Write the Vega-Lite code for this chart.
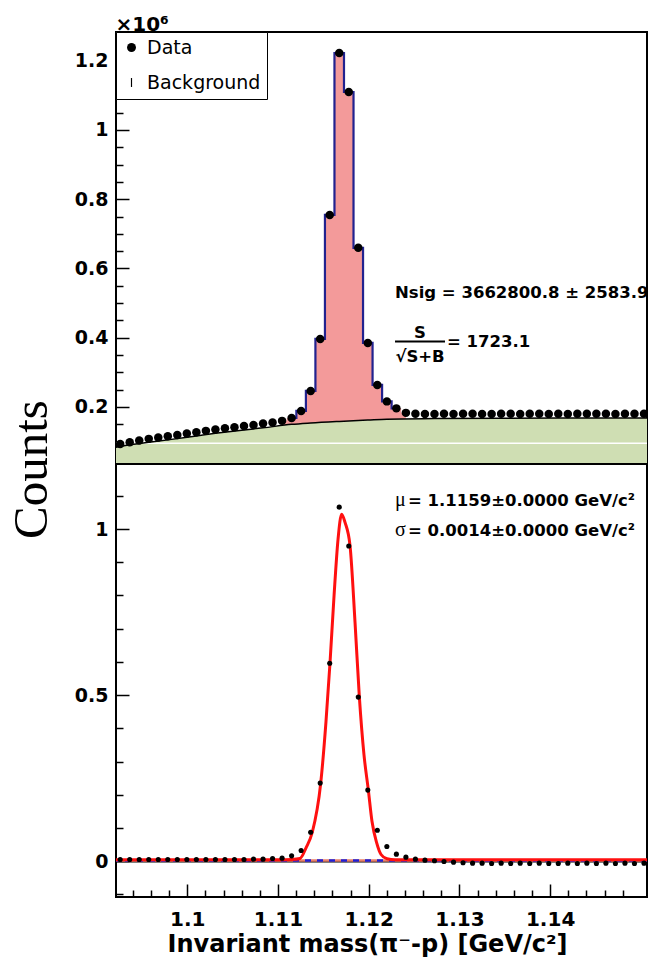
{
  "$schema": "https://vega.github.io/schema/vega-lite/v6.json",
  "padding": {"left": 6, "top": 13, "right": 0, "bottom": 0},
  "background": "white",
  "bounds": "flush",
  "spacing": 0,
  "config": {
    "view": {"stroke": "black", "strokeWidth": 2},
    "concat": {"spacing": 0}
  },
  "datasets": {
    "bins": [
      {"m": 1.0926, "n": 0.0931, "r": 0.005},
      {"m": 1.09365, "n": 0.0981, "r": 0.005},
      {"m": 1.0947, "n": 0.1027, "r": 0.005},
      {"m": 1.09575, "n": 0.1076, "r": 0.005},
      {"m": 1.0968, "n": 0.1113, "r": 0.005},
      {"m": 1.09785, "n": 0.1154, "r": 0.005},
      {"m": 1.0989, "n": 0.1191, "r": 0.005},
      {"m": 1.09995, "n": 0.1229, "r": 0.005},
      {"m": 1.101, "n": 0.1269, "r": 0.005},
      {"m": 1.10205, "n": 0.1307, "r": 0.005},
      {"m": 1.1031, "n": 0.1344, "r": 0.005},
      {"m": 1.10415, "n": 0.1385, "r": 0.005},
      {"m": 1.1052, "n": 0.1414, "r": 0.005},
      {"m": 1.10625, "n": 0.1451, "r": 0.005},
      {"m": 1.1073, "n": 0.148, "r": 0.006},
      {"m": 1.10835, "n": 0.1518, "r": 0.006},
      {"m": 1.1094, "n": 0.1547, "r": 0.008},
      {"m": 1.11045, "n": 0.1596, "r": 0.009},
      {"m": 1.1115, "n": 0.1682, "r": 0.016},
      {"m": 1.11255, "n": 0.1884, "r": 0.032},
      {"m": 1.1136, "n": 0.2462, "r": 0.087},
      {"m": 1.11465, "n": 0.3964, "r": 0.235},
      {"m": 1.1157, "n": 0.7545, "r": 0.596},
      {"m": 1.11675, "n": 1.2224, "r": 1.066},
      {"m": 1.1178, "n": 1.1097, "r": 0.949},
      {"m": 1.11885, "n": 0.6596, "r": 0.494},
      {"m": 1.1199, "n": 0.3848, "r": 0.214},
      {"m": 1.12095, "n": 0.2635, "r": 0.093},
      {"m": 1.122, "n": 0.2159, "r": 0.044},
      {"m": 1.12305, "n": 0.1957, "r": 0.021},
      {"m": 1.1241, "n": 0.1827, "r": 0.012},
      {"m": 1.12515, "n": 0.18, "r": 0.006},
      {"m": 1.1262, "n": 0.1795, "r": 0.003},
      {"m": 1.12725, "n": 0.1798, "r": 0.001},
      {"m": 1.1283, "n": 0.1801, "r": -0.001},
      {"m": 1.12935, "n": 0.1797, "r": -0.003},
      {"m": 1.1304, "n": 0.1799, "r": -0.005},
      {"m": 1.13145, "n": 0.1802, "r": -0.006},
      {"m": 1.1325, "n": 0.1798, "r": -0.006},
      {"m": 1.13355, "n": 0.1796, "r": -0.007},
      {"m": 1.1346, "n": 0.18, "r": -0.006},
      {"m": 1.13565, "n": 0.1801, "r": -0.007},
      {"m": 1.1367, "n": 0.1797, "r": -0.006},
      {"m": 1.13775, "n": 0.1799, "r": -0.007},
      {"m": 1.1388, "n": 0.1802, "r": -0.006},
      {"m": 1.13985, "n": 0.1798, "r": -0.007},
      {"m": 1.1409, "n": 0.18, "r": -0.007},
      {"m": 1.14195, "n": 0.1797, "r": -0.006},
      {"m": 1.143, "n": 0.1801, "r": -0.007},
      {"m": 1.14405, "n": 0.1799, "r": -0.006},
      {"m": 1.1451, "n": 0.18, "r": -0.007},
      {"m": 1.14615, "n": 0.1802, "r": -0.006},
      {"m": 1.1472, "n": 0.1798, "r": -0.007},
      {"m": 1.14825, "n": 0.18, "r": -0.006},
      {"m": 1.1493, "n": 0.1801, "r": -0.007},
      {"m": 1.15035, "n": 0.1799, "r": -0.006}
    ],
    "bg": [
      {"m": 1.09214, "b": 0.083},
      {"m": 1.0926, "b": 0.0859},
      {"m": 1.09575, "b": 0.0975},
      {"m": 1.09785, "b": 0.1047},
      {"m": 1.101, "b": 0.116},
      {"m": 1.1031, "b": 0.1235},
      {"m": 1.10625, "b": 0.1335},
      {"m": 1.10835, "b": 0.1394},
      {"m": 1.1115, "b": 0.1495},
      {"m": 1.1136, "b": 0.1535},
      {"m": 1.11675, "b": 0.1581},
      {"m": 1.1199, "b": 0.162},
      {"m": 1.122, "b": 0.1645},
      {"m": 1.12725, "b": 0.1662},
      {"m": 1.1346, "b": 0.1672},
      {"m": 1.143, "b": 0.1678},
      {"m": 1.15068, "b": 0.1682}
    ],
    "fit": [
      {"m": 1.09214, "f": 0.004},
      {"m": 1.1, "f": 0.004},
      {"m": 1.11, "f": 0.004},
      {"m": 1.1115, "f": 0.005},
      {"m": 1.11243, "f": 0.008},
      {"m": 1.11309, "f": 0.04},
      {"m": 1.11378, "f": 0.087},
      {"m": 1.11471, "f": 0.235},
      {"m": 1.11529, "f": 0.42},
      {"m": 1.11573, "f": 0.596},
      {"m": 1.11618, "f": 0.8},
      {"m": 1.11662, "f": 0.97},
      {"m": 1.11702, "f": 1.045},
      {"m": 1.11739, "f": 1.02},
      {"m": 1.11794, "f": 0.95},
      {"m": 1.11849, "f": 0.72},
      {"m": 1.11897, "f": 0.494},
      {"m": 1.11948, "f": 0.32},
      {"m": 1.11996, "f": 0.214},
      {"m": 1.12036, "f": 0.12},
      {"m": 1.12088, "f": 0.055},
      {"m": 1.12136, "f": 0.02},
      {"m": 1.12202, "f": 0.007},
      {"m": 1.1229, "f": 0.004},
      {"m": 1.135, "f": 0.004},
      {"m": 1.15068, "f": 0.004}
    ]
  },
  "vconcat": [
    {
      "width": 531,
      "height": 432,
      "layer": [
        {
          "data": {"name": "bins"},
          "transform": [{"filter": "datum.m >= 1.1104 && datum.m <= 1.1242"}],
          "mark": {"type": "area", "interpolate": "step", "clip": true, "color": "#f39a9a"},
          "encoding": {
            "x": {"field": "m", "type": "quantitative", "scale": {"domain": [1.09214, 1.15068], "nice": false, "zero": false}},
            "y": {"field": "n", "type": "quantitative", "scale": {"domain": [0.035, 1.283], "nice": false, "zero": false}},
            "y2": {"datum": 0}
          }
        },
        {
          "data": {"name": "bg"},
          "mark": {"type": "area", "interpolate": "monotone", "clip": true, "color": "#cfdeb3"},
          "encoding": {
            "x": {"field": "m", "type": "quantitative", "scale": {"domain": [1.09214, 1.15068], "nice": false, "zero": false}},
            "y": {"field": "b", "type": "quantitative", "scale": {"domain": [0.035, 1.283], "nice": false, "zero": false}},
            "y2": {"datum": 0}
          }
        },
        {
          "data": {"values": [{}]},
          "mark": {"type": "rule", "color": "white", "strokeWidth": 1.5},
          "encoding": {
            "y": {"datum": 0.0952, "type": "quantitative", "scale": {"domain": [0.035, 1.283], "nice": false, "zero": false}}
          }
        },
        {
          "data": {"name": "bg"},
          "mark": {"type": "line", "interpolate": "monotone", "clip": true, "color": "black", "strokeWidth": 1.5},
          "encoding": {
            "x": {"field": "m", "type": "quantitative", "scale": {"domain": [1.09214, 1.15068], "nice": false, "zero": false}},
            "y": {"field": "b", "type": "quantitative", "scale": {"domain": [0.035, 1.283], "nice": false, "zero": false}}
          }
        },
        {
          "data": {"name": "bins"},
          "transform": [{"filter": "datum.m >= 1.1114 && datum.m <= 1.1231"}],
          "mark": {"type": "line", "interpolate": "step", "clip": true, "color": "#22228f", "strokeWidth": 2.2},
          "encoding": {
            "x": {"field": "m", "type": "quantitative", "scale": {"domain": [1.09214, 1.15068], "nice": false, "zero": false}},
            "y": {"field": "n", "type": "quantitative", "scale": {"domain": [0.035, 1.283], "nice": false, "zero": false}}
          }
        },
        {
          "data": {"name": "bins"},
          "mark": {"type": "point", "filled": true, "opacity": 1, "size": 72, "color": "black", "clip": true},
          "encoding": {
            "x": {
              "field": "m", "type": "quantitative",
              "scale": {"domain": [1.09214, 1.15068], "nice": false, "zero": false},
              "axis": {
                "values": [1.092,1.094,1.096,1.098,1.1,1.102,1.104,1.106,1.108,1.11,1.112,1.114,1.116,1.118,1.12,1.122,1.124,1.126,1.128,1.13,1.132,1.134,1.136,1.138,1.14,1.142,1.144,1.146,1.148],
                "tickCount": 500,
                "labels": false, "domain": false, "grid": false, "title": null,
                "tickColor": "black", "tickWidth": 1.5,
                "tickSize": {"condition": {"test": "abs(datum.value*100-round(datum.value*100))<0.01", "value": -13}, "value": -7}
              }
            },
            "y": {
              "field": "n", "type": "quantitative",
              "scale": {"domain": [0.035, 1.283], "nice": false, "zero": false},
              "axis": {
                "values": [0.05,0.1,0.15,0.2,0.25,0.3,0.35,0.4,0.45,0.5,0.55,0.6,0.65,0.7,0.75,0.8,0.85,0.9,0.95,1,1.05,1.1,1.15,1.2,1.25],
                "tickCount": 500,
                "labelExpr": "abs(datum.value*5-round(datum.value*5))<0.01 ? format(datum.value, '.2~f') : ''",
                "labelOverlap": false, "labelFlush": false,
                "labelFont": "DejaVu Sans", "labelFontWeight": "bold", "labelFontSize": 19, "labelColor": "black",
                "labelPadding": 21,
                "domain": false, "grid": false,
                "tickColor": "black", "tickWidth": 1.5,
                "tickSize": {"condition": {"test": "abs(datum.value*5-round(datum.value*5))<0.01", "value": -13}, "value": -7},
                "title": "×10⁶", "titleAngle": 0, "titleX": -1, "titleY": -2, "titleAlign": "left", "titleBaseline": "alphabetic",
                "titleFont": "DejaVu Sans", "titleFontSize": 20, "titleFontWeight": "bold", "titleColor": "black"
              }
            },
            "shape": {
              "datum": "Data",
              "type": "nominal",
              "scale": {"domain": ["Data", "Background"], "range": ["circle", "M-0.13,-1L0.13,-1L0.13,1L-0.13,1Z"]},
              "legend": {
                "title": null, "orient": "top-left", "offset": 0, "padding": 6,
                "strokeColor": "black", "fillColor": "white", "cornerRadius": 0,
                "labelFont": "DejaVu Sans", "labelFontSize": 19, "labelColor": "black",
                "symbolSize": 80, "rowPadding": 15, "labelOffset": 6, "symbolOffset": 0,
                "symbolFillColor": "black", "symbolStrokeColor": "black",
                "encode": {"symbols": {"update": {"fill": {"value": "black"}, "opacity": {"value": 1}}}}
              }
            }
          }
        },
        {
          "data": {"values": [{}]},
          "mark": {"type": "text", "align": "left", "baseline": "alphabetic", "font": "DejaVu Sans", "fontWeight": "bold", "fontSize": 16.5, "color": "black", "text": "Nsig = 3662800.8 ± 2583.9"},
          "encoding": {
            "x": {"datum": 1.1229, "type": "quantitative", "scale": {"domain": [1.09214, 1.15068], "nice": false, "zero": false}},
            "y": {"datum": 0.5148, "type": "quantitative", "scale": {"domain": [0.035, 1.283], "nice": false, "zero": false}}
          }
        },
        {
          "data": {"values": [{}]},
          "mark": {"type": "text", "align": "center", "baseline": "alphabetic", "font": "DejaVu Sans", "fontWeight": "bold", "fontSize": 16.5, "color": "black", "text": "S"},
          "encoding": {
            "x": {"datum": 1.12566, "type": "quantitative", "scale": {"domain": [1.09214, 1.15068], "nice": false, "zero": false}},
            "y": {"datum": 0.3993, "type": "quantitative", "scale": {"domain": [0.035, 1.283], "nice": false, "zero": false}}
          }
        },
        {
          "data": {"values": [{}]},
          "mark": {"type": "rule", "color": "black", "strokeWidth": 2},
          "encoding": {
            "x": {"datum": 1.1229, "type": "quantitative", "scale": {"domain": [1.09214, 1.15068], "nice": false, "zero": false}},
            "x2": {"datum": 1.12841},
            "y": {"datum": 0.3892, "type": "quantitative", "scale": {"domain": [0.035, 1.283], "nice": false, "zero": false}}
          }
        },
        {
          "data": {"values": [{}]},
          "mark": {"type": "text", "align": "center", "baseline": "alphabetic", "font": "DejaVu Sans", "fontWeight": "bold", "fontSize": 16.5, "color": "black", "text": "√S+B"},
          "encoding": {
            "x": {"datum": 1.12566, "type": "quantitative", "scale": {"domain": [1.09214, 1.15068], "nice": false, "zero": false}},
            "y": {"datum": 0.33, "type": "quantitative", "scale": {"domain": [0.035, 1.283], "nice": false, "zero": false}}
          }
        },
        {
          "data": {"values": [{}]},
          "mark": {"type": "text", "align": "left", "baseline": "alphabetic", "font": "DejaVu Sans", "fontWeight": "bold", "fontSize": 16.5, "color": "black", "text": "= 1723.1"},
          "encoding": {
            "x": {"datum": 1.12863, "type": "quantitative", "scale": {"domain": [1.09214, 1.15068], "nice": false, "zero": false}},
            "y": {"datum": 0.3733, "type": "quantitative", "scale": {"domain": [0.035, 1.283], "nice": false, "zero": false}}
          }
        }
      ]
    },
    {
      "width": 531,
      "height": 433,
      "layer": [
        {
          "data": {"values": [{}]},
          "mark": {"type": "rule", "color": "black", "strokeWidth": 2.5},
          "encoding": {
            "y": {"datum": 0, "type": "quantitative", "scale": {"domain": [-0.108, 1.196], "nice": false, "zero": false}}
          }
        },
        {
          "data": {"values": [{}]},
          "mark": {"type": "rule", "color": "#e8806a", "strokeWidth": 2.5},
          "encoding": {
            "y": {"datum": 0.002, "type": "quantitative", "scale": {"domain": [-0.108, 1.196], "nice": false, "zero": false}}
          }
        },
        {
          "data": {"values": [{}]},
          "mark": {"type": "rule", "color": "#1f1fd6", "strokeWidth": 2.5, "strokeDash": [6, 6]},
          "encoding": {
            "y": {"datum": 0.002, "type": "quantitative", "scale": {"domain": [-0.108, 1.196], "nice": false, "zero": false}}
          }
        },
        {
          "data": {"name": "fit"},
          "mark": {"type": "line", "interpolate": "monotone", "clip": true, "color": "#ff1010", "strokeWidth": 3},
          "encoding": {
            "x": {"field": "m", "type": "quantitative", "scale": {"domain": [1.09214, 1.15068], "nice": false, "zero": false}},
            "y": {"field": "f", "type": "quantitative", "scale": {"domain": [-0.108, 1.196], "nice": false, "zero": false}}
          }
        },
        {
          "data": {"name": "bins"},
          "mark": {"type": "point", "filled": true, "opacity": 1, "size": 26, "color": "black", "shape": "circle", "clip": true},
          "encoding": {
            "x": {
              "field": "m", "type": "quantitative",
              "scale": {"domain": [1.09214, 1.15068], "nice": false, "zero": false},
              "axis": {
                "values": [1.092,1.094,1.096,1.098,1.1,1.102,1.104,1.106,1.108,1.11,1.112,1.114,1.116,1.118,1.12,1.122,1.124,1.126,1.128,1.13,1.132,1.134,1.136,1.138,1.14,1.142,1.144,1.146,1.148],
                "tickCount": 500,
                "labelExpr": "abs(datum.value*100-round(datum.value*100))<0.01 ? format(datum.value, '.3~f') : ''",
                "labelOverlap": false, "labelFlush": false,
                "labelFont": "DejaVu Sans", "labelFontWeight": "bold", "labelFontSize": 20, "labelColor": "black",
                "labelPadding": 25,
                "domain": false, "grid": false,
                "tickColor": "black", "tickWidth": 1.5,
                "tickSize": {"condition": {"test": "abs(datum.value*100-round(datum.value*100))<0.01", "value": -13}, "value": -7},
                "title": "Invariant mass(π⁻-p) [GeV/c²]",
                "titleFont": "DejaVu Sans", "titleFontWeight": "bold", "titleFontSize": 24, "titleColor": "black",
                "titleX": 251, "titleY": 54, "titleAlign": "center", "titleBaseline": "alphabetic"
              }
            },
            "y": {
              "field": "r", "type": "quantitative",
              "scale": {"domain": [-0.108, 1.196], "nice": false, "zero": false},
              "axis": {
                "values": [-0.1,0,0.1,0.2,0.3,0.4,0.5,0.6,0.7,0.8,0.9,1,1.1],
                "tickCount": 500,
                "labelExpr": "abs(datum.value*2-round(datum.value*2))<0.01 ? format(datum.value, '.1~f') : ''",
                "labelOverlap": false, "labelFlush": false,
                "labelFont": "DejaVu Sans", "labelFontWeight": "bold", "labelFontSize": 19, "labelColor": "black",
                "labelPadding": 21,
                "domain": false, "grid": false,
                "tickColor": "black", "tickWidth": 1.5,
                "tickSize": {"condition": {"test": "abs(datum.value*2-round(datum.value*2))<0.01", "value": -13}, "value": -7},
                "title": "Counts", "titleAngle": -90, "titleX": -70, "titleY": 5, "titleAlign": "center", "titleBaseline": "alphabetic",
                "titleFont": "Liberation Serif", "titleFontSize": 49, "titleFontWeight": "normal", "titleColor": "black"
              }
            }
          }
        },
        {
          "data": {"values": [{}]},
          "mark": {"type": "text", "align": "left", "baseline": "alphabetic", "font": "Liberation Serif", "fontSize": 20, "color": "black", "text": "μ"},
          "encoding": {
            "x": {"datum": 1.1229, "type": "quantitative", "scale": {"domain": [1.09214, 1.15068], "nice": false, "zero": false}},
            "y": {"datum": 1.0693, "type": "quantitative", "scale": {"domain": [-0.108, 1.196], "nice": false, "zero": false}}
          }
        },
        {
          "data": {"values": [{}]},
          "mark": {"type": "text", "align": "left", "baseline": "alphabetic", "font": "DejaVu Sans", "fontWeight": "bold", "fontSize": 16.5, "color": "black", "text": "= 1.1159±0.0000 GeV/c²"},
          "encoding": {
            "x": {"datum": 1.12433, "type": "quantitative", "scale": {"domain": [1.09214, 1.15068], "nice": false, "zero": false}},
            "y": {"datum": 1.0693, "type": "quantitative", "scale": {"domain": [-0.108, 1.196], "nice": false, "zero": false}}
          }
        },
        {
          "data": {"values": [{}]},
          "mark": {"type": "text", "align": "left", "baseline": "alphabetic", "font": "Liberation Serif", "fontSize": 20, "color": "black", "text": "σ"},
          "encoding": {
            "x": {"datum": 1.1229, "type": "quantitative", "scale": {"domain": [1.09214, 1.15068], "nice": false, "zero": false}},
            "y": {"datum": 0.979, "type": "quantitative", "scale": {"domain": [-0.108, 1.196], "nice": false, "zero": false}}
          }
        },
        {
          "data": {"values": [{}]},
          "mark": {"type": "text", "align": "left", "baseline": "alphabetic", "font": "DejaVu Sans", "fontWeight": "bold", "fontSize": 16.5, "color": "black", "text": "= 0.0014±0.0000 GeV/c²"},
          "encoding": {
            "x": {"datum": 1.12433, "type": "quantitative", "scale": {"domain": [1.09214, 1.15068], "nice": false, "zero": false}},
            "y": {"datum": 0.979, "type": "quantitative", "scale": {"domain": [-0.108, 1.196], "nice": false, "zero": false}}
          }
        }
      ]
    }
  ]
}
